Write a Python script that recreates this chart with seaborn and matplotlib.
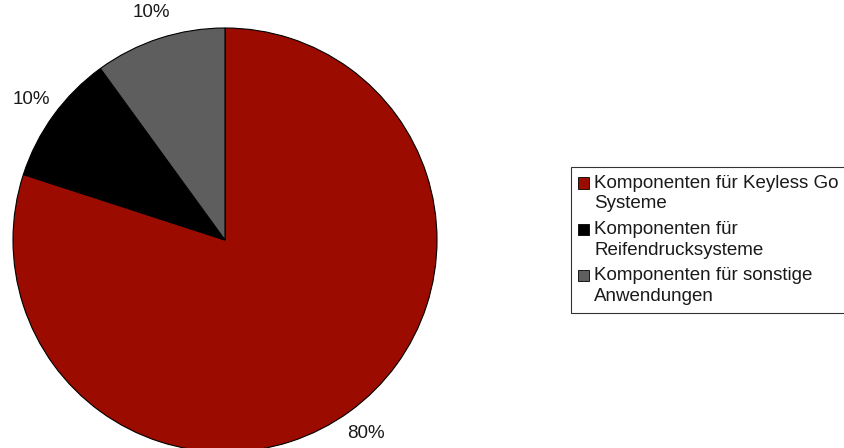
import matplotlib
matplotlib.use("Agg")
import matplotlib.pyplot as plt
import seaborn as sns
from matplotlib.patches import Rectangle, Wedge
from matplotlib.legend_handler import HandlerPatch

categories = [
    "Komponenten für Keyless Go\nSysteme",
    "Komponenten für\nReifendrucksysteme",
    "Komponenten für sonstige\nAnwendungen",
]
shares = [80, 10, 10]
colors = ["#9B0B00", "#000000", "#5E5E5E"]

sns.set_theme(style="white")
plt.rcParams["font.family"] = ["Liberation Sans", "DejaVu Sans"]

fig = plt.figure(figsize=(8.45, 4.48), dpi=100)
W, H = 845, 448
ax = fig.add_axes([13 / W, -4 / H, 424 / W, 424 / H])

wedges, texts, autotexts = ax.pie(
    shares,
    colors=colors,
    startangle=90,
    counterclock=False,
    autopct=lambda p: f"{p:.0f}%",
    pctdistance=1.13,
    wedgeprops=dict(edgecolor="black", linewidth=0.8),
    textprops=dict(fontsize=13.5, color="#1a1a1a"),
)
ax.set_xlim(-1, 1)
ax.set_ylim(-1, 1)
ax.set_aspect("equal")
ax.axis("off")


def first_line_square(legend, orig_handle, xdescent, ydescent, width, height, fontsize):
    # keep the colour key level with the first line of a two-line label
    return Rectangle((-xdescent, -ydescent + 0.55 * fontsize), width, height)


leg = fig.legend(
    wedges,
    categories,
    loc="upper left",
    bbox_to_anchor=(571 / W, 1 - 167 / H),
    bbox_transform=fig.transFigure,
    borderaxespad=0,
    frameon=True,
    fancybox=False,
    fontsize=13.5,
    handlelength=0.55,
    handleheight=0.55,
    handletextpad=0.3,
    labelspacing=0.45,
    borderpad=0.4,
    handler_map={Wedge: HandlerPatch(patch_func=first_line_square)},
)
for t in leg.get_texts():
    t.set_linespacing(1.3)
    t.set_color("#1a1a1a")
leg.get_frame().set_edgecolor("black")
leg.get_frame().set_linewidth(0.8)
for h in leg.legend_handles:
    h.set_edgecolor("black")
    h.set_linewidth(0.6)

fig.savefig("out.png", dpi=100)
